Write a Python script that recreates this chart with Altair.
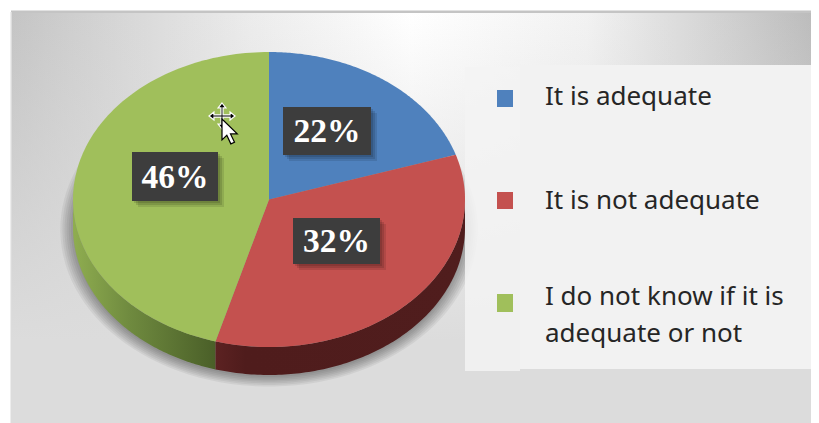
import numpy as np
import pandas as pd
import altair as alt

# ---- data
categories = ["It is adequate", "It is not adequate", "I do not know if it is", "adequate or not"]
printed_labels = ["22%", "32%", "46%"]
drawn_shares = [20.1, 34.3, 45.6]   # as drawn in the tilted 3D view
top_colors = ["#4f81bd", "#c4514f", "#a0bf5b"]

W, H = 803, 415
CX, CY, RX, RY, DEPTH = 261, 191.5, 196, 147.5, 28
xs = alt.Scale(domain=[-CX / RX, (W - CX) / RX], zero=False, nice=False)
ys = alt.Scale(domain=[(CY - H) / RY, CY / RY], zero=False, nice=False)


def px(v):
    return v - 8


def poly(u, v, **mark):
    df = pd.DataFrame({"u": u, "v": v, "i": np.arange(len(u))})
    return alt.Chart(df).mark_line(strokeWidth=0, **mark).encode(
        x=alt.X("u:Q", scale=xs, axis=None),
        y=alt.Y("v:Q", scale=ys, axis=None),
        order=alt.Order("i:Q"),
    )


def arc(a0, a1, n=120):
    t = np.radians(np.linspace(a0, a1, n))
    return np.sin(t), np.cos(t)


def box(x0, x1, y0, y1, **mark):
    return alt.Chart(pd.DataFrame({"a": [0]})).mark_rect(**mark).encode(
        x=alt.value(px(x0)), x2=alt.value(px(x1)), y=alt.value(px(y0)), y2=alt.value(px(y1))
    )


def label(s, x, y, **mark):
    return alt.Chart(pd.DataFrame({"t": [s]})).mark_text(**mark).encode(
        x=alt.value(px(x)), y=alt.value(px(y)), text="t:N"
    )


layers = []

# page background and frame
bg = alt.Gradient(
    gradient="linear", x1=0, y1=0, x2=1, y2=0,
    stops=[
        alt.GradientStop(offset=0, color="#c4c4c4"),
        alt.GradientStop(offset=0.3, color="#ececec"),
        alt.GradientStop(offset=0.5, color="#ffffff"),
        alt.GradientStop(offset=0.72, color="#f2f2f2"),
        alt.GradientStop(offset=1, color="#bcbcbc"),
    ],
)
fade = alt.Gradient(
    gradient="linear", x1=0, y1=0, x2=0, y2=1,
    stops=[
        alt.GradientStop(offset=0, color="rgba(220,220,220,0)"),
        alt.GradientStop(offset=0.8, color="rgba(220,220,220,1)"),
        alt.GradientStop(offset=1, color="rgba(220,220,220,1)"),
    ],
)
layers.append(box(11, 811, 12, 423, fill=bg))
layers.append(box(11, 811, 12, 423, fill=fade))
layers.append(box(11, 811, 10.5, 13, fill="#c4c4c4"))
layers.append(box(10.5, 12, 12, 423, fill="#dcdcdc"))

# soft shadow beneath the pie
for k in np.linspace(1.065, 1.0, 7):
    su, sv = arc(0, 360)
    layers.append(poly(su * k, sv * k - (DEPTH + 2) / RY, fill="#000000", opacity=0.055))

# legend panels
layers.append(box(465, 520, 67, 371, fill="#f3f3f3", opacity=0.85))
layers.append(box(520, 811, 65, 369, fill="#f2f2f2"))

# slice boundaries
edges = np.concatenate([[0], np.cumsum(drawn_shares)]) * 3.6

# side wall
d = DEPTH / RY
green_side = alt.Gradient(
    gradient="linear", x1=0, y1=0, x2=1, y2=0,
    stops=[alt.GradientStop(offset=0, color="#8fad50"),
           alt.GradientStop(offset=0.4, color="#6f8a3f"),
           alt.GradientStop(offset=1, color="#4a5f28")],
)
red_side = alt.Gradient(
    gradient="linear", x1=0, y1=0, x2=1, y2=0,
    stops=[alt.GradientStop(offset=0, color="#5c2222"),
           alt.GradientStop(offset=0.12, color="#4f1c1c"),
           alt.GradientStop(offset=1, color="#501d1d")],
)
u, v = arc(edges[2], 270)
layers.append(poly(np.r_[u, u[::-1]], np.r_[v, v[::-1] - d], fill=green_side))
u, v = arc(90, edges[2])
layers.append(poly(np.r_[u, u[::-1]], np.r_[v, v[::-1] - d], fill=red_side))

# top faces
for a0, a1, c in zip(edges[:-1], edges[1:], top_colors):
    u, v = arc(a0, a1)
    layers.append(poly(np.r_[0, u], np.r_[0, v], fill=c))

# value labels
boxes = [(283, 371, 107, 155), (293, 380, 218, 264), (132, 218, 152, 201)]
for s, (x0, x1, y0, y1) in zip(printed_labels, boxes):
    for off, op in [(2, 0.12), (4, 0.12), (6, 0.1)]:
        layers.append(box(x0 + off, x1 + off, y0 + off, y1 + off, fill="#000000", opacity=op))
    layers.append(box(x0, x1, y0, y1, fill="#3d3d3d"))
    layers.append(label(s, (x0 + x1) / 2, (y0 + y1) / 2 + 1, font="Liberation Serif",
                        fontWeight="bold", fontSize=33.5, color="#ffffff", baseline="middle", align="center"))

# legend
for c, (y0, y1) in zip(top_colors, [(90, 107), (192, 209), (294, 312)]):
    layers.append(box(497, 513, y0, y1, fill=c))
for s, y in zip(categories, [97, 201, 297, 334]):
    layers.append(label(s, 545, y, font="Noto Sans", fontSize=26, color="#262626",
                        baseline="middle", align="left"))

# mouse pointer over the pie
CROSS = ("M0,-1L.3,-.62L.08,-.62L.08,-.08L.62,-.08L.62,-.3L1,0L.62,.3L.62,.08L.08,.08L.08,.62L.3,.62L0,1"
         "L-.3,.62L-.08,.62L-.08,.08L-.62,.08L-.62,.3L-1,0L-.62,-.3L-.62,-.08L-.08,-.08L-.08,-.62L-.3,-.62Z")
ARROW = "M0,0L0,1.3L.3,1.02L.55,1.55L.78,1.45L.53,.93L.95,.93Z"
one = pd.DataFrame({"a": [0]})
layers.append(alt.Chart(one).mark_point(shape=CROSS, size=676, filled=True, fill="#000000", stroke="#ffffff",
                                        strokeWidth=1.2, opacity=1).encode(x=alt.value(px(222)), y=alt.value(px(116))))
layers.append(alt.Chart(one).mark_point(shape=ARROW, size=1030, filled=True, fill="#ffffff", stroke="#000000",
                                        strokeWidth=1.2, opacity=1).encode(x=alt.value(px(222)), y=alt.value(px(119))))

chart = alt.layer(*layers).properties(
    width=W, height=H, padding=0, autosize=alt.AutoSizeParams(type="none"), background="#ffffff",
).configure_view(stroke=None)

chart.save("out.html", embed_options={"renderer": "svg", "actions": False})
